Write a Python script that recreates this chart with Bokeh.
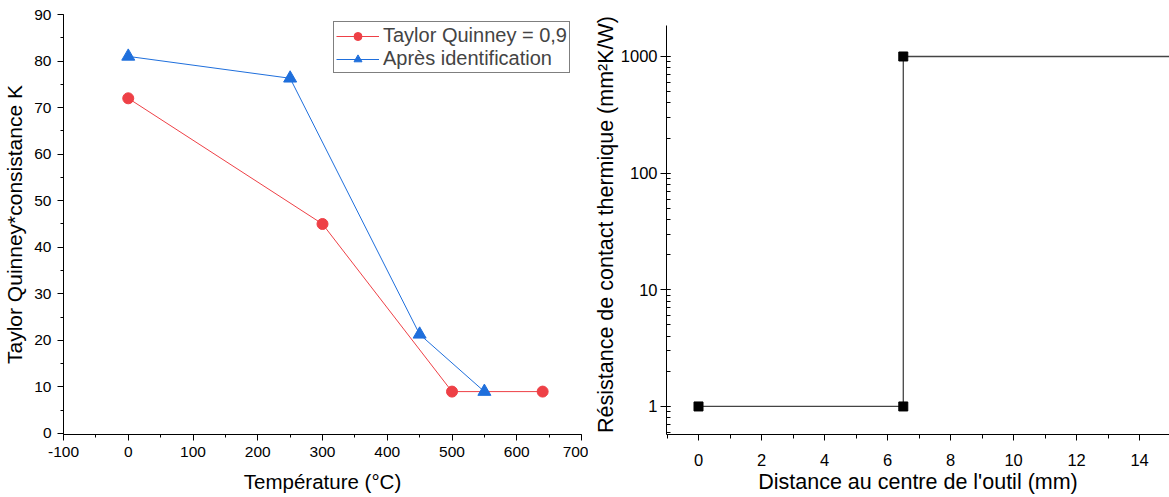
from bokeh.plotting import figure
from bokeh.layouts import row
from bokeh.models import Range1d, LogTicker, PrintfTickFormatter, BasicTicker
from bokeh.embed import file_html
from bokeh.resources import INLINE

# ---- data: left chart ----
temp_tq = [0, 300, 500, 640]
val_tq = [72, 45, 9, 9]
temp_id = [0, 250, 450, 550]
val_id = [81, 76.3, 21.3, 9]
label_tq = "Taylor Quinney = 0,9"
label_id = "Après identification"

# ---- data: right chart ----
dist = [0, 6.5, 6.5, 20]
resist = [1, 1, 1000, 1000]
dist_marked = [0, 6.5, 6.5]
resist_marked = [1, 1, 1000]

FONT = "Liberation Sans"
RED = "#ee4046"
BLUE = "#1f6fdc"
H = 497
W1 = 588


def style_axes(p, tick_size, xtitle_size, ytitle_size):
    for ax in (p.xaxis[0], p.yaxis[0]):
        ax.axis_line_color = "black"
        ax.axis_line_width = 1
        ax.major_tick_line_color = "black"
        ax.minor_tick_line_color = "black"
        ax.major_label_text_font = FONT
        ax.major_label_text_font_size = tick_size
        ax.major_label_text_color = "black"
        ax.axis_label_text_font = FONT
        ax.axis_label_text_font_style = "normal"
        ax.axis_label_text_color = "black"
        ax.formatter = PrintfTickFormatter(format="%d")
    p.xaxis[0].axis_label_text_font_size = xtitle_size
    p.yaxis[0].axis_label_text_font_size = ytitle_size
    p.xgrid.visible = False
    p.ygrid.visible = False
    p.outline_line_color = None


# ---------------- left figure ----------------
p1 = figure(width=W1, height=H, output_backend="svg", toolbar_location=None,
            x_range=Range1d(-100, 700), y_range=Range1d(-0.215, 90),
            min_border_left=63, min_border_right=W1 - 581, min_border_top=14, min_border_bottom=63)
p1.xaxis.axis_label = "Température (°C)"
p1.yaxis.axis_label = "Taylor Quinney*consistance K"
p1.xaxis.ticker = BasicTicker(desired_num_ticks=8, num_minor_ticks=2)
p1.yaxis.ticker = BasicTicker(desired_num_ticks=9, num_minor_ticks=2)
style_axes(p1, "15.5px", "20.5px", "21px")
for ax in (p1.xaxis[0], p1.yaxis[0]):
    ax.major_tick_in = 0
    ax.major_tick_out = 6
    ax.minor_tick_in = 0
    ax.minor_tick_out = 3
p1.xaxis.major_label_standoff = 6
p1.xaxis.axis_label_standoff = 10
p1.yaxis.major_label_standoff = 6
p1.yaxis.axis_label_standoff = 5

p1.line(temp_tq, val_tq, color=RED, line_width=1, legend_label=label_tq)
p1.scatter(temp_tq, val_tq, marker="circle", size=11, color=RED, legend_label=label_tq)
p1.line(temp_id, val_id, color=BLUE, line_width=1, legend_label=label_id)
p1.scatter(temp_id, val_id, marker="triangle", size=13, color=BLUE, legend_label=label_id)

lg = p1.legend[0]
lg.location = (270, 361)
lg.padding = 2
lg.spacing = 0
lg.glyph_width = 43
lg.glyph_height = 20
lg.label_standoff = 4
lg.label_text_font = FONT
lg.label_text_font_size = "20px"
lg.label_height = 20
lg.border_line_color = "black"
lg.border_line_width = 1
lg.background_fill_alpha = 1

# ---------------- right figure ----------------
p2 = figure(width=1169 - W1, height=H, output_backend="svg", toolbar_location=None,
            y_axis_type="log",
            x_range=Range1d(-1.016, 14.95), y_range=Range1d(0.575, 2291),
            min_border_left=666 - W1, min_border_right=0, min_border_top=14, min_border_bottom=63)
p2.xaxis.axis_label = "Distance au centre de l'outil (mm)"
p2.yaxis.axis_label = "Résistance de contact thermique (mm²K/W)"
p2.xaxis.ticker = BasicTicker(desired_num_ticks=8, num_minor_ticks=2)
p2.yaxis.ticker = LogTicker(num_minor_ticks=10)
p2.yaxis.bounds = (0.575, 1844)
style_axes(p2, "16.5px", "21.5px", "21.5px")
p2.xaxis.major_tick_in = 0
p2.xaxis.major_tick_out = 6
p2.xaxis.minor_tick_in = 0
p2.xaxis.minor_tick_out = 4
p2.yaxis.major_tick_in = 0
p2.yaxis.major_tick_out = 6
p2.yaxis.minor_tick_in = 4
p2.yaxis.minor_tick_out = 0
p2.xaxis.major_label_standoff = 13
p2.xaxis.axis_label_standoff = 1
p2.yaxis.major_label_standoff = 3
p2.yaxis.axis_label_standoff = 0

p2.line(dist, resist, color="#444444", line_width=1.3)
p2.scatter(dist_marked, resist_marked, marker="square", size=9, color="black")

layout = row(p1, p2)
open("out.html", "w").write(file_html(layout, INLINE))
